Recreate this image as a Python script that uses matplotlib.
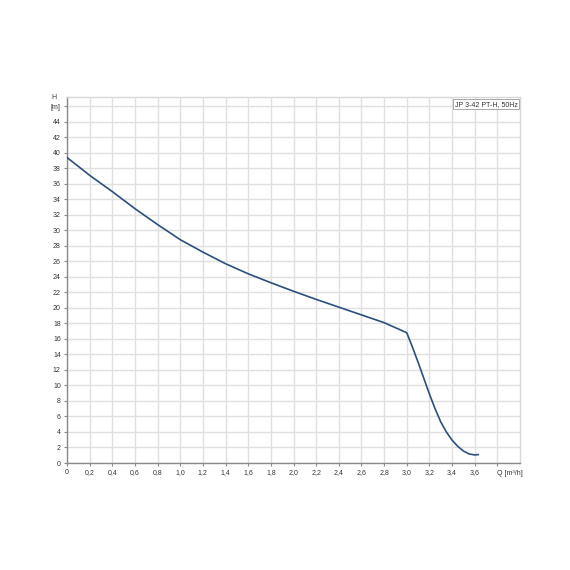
import matplotlib
matplotlib.use("Agg")
import matplotlib.pyplot as plt
import matplotlib.transforms as mtransforms

# Data
Q = [0, 0.2, 0.4, 0.6, 0.8, 1.0, 1.2, 1.4, 1.6, 1.8, 2.0, 2.2, 2.4, 2.6, 2.8,
     3.0, 3.05, 3.1, 3.15, 3.2, 3.25, 3.3, 3.35, 3.4, 3.45, 3.5, 3.55, 3.6, 3.63]
H = [39.4, 37.1, 35.0, 32.8, 30.75, 28.8, 27.2, 25.7, 24.4, 23.25, 22.15, 21.1,
     20.1, 19.1, 18.1, 16.8, 14.95, 13.0, 10.95, 8.9, 7.0, 5.3, 4.0, 2.95, 2.15,
     1.55, 1.17, 1.04, 1.08]

x_ticks = [0, 0.2, 0.4, 0.6, 0.8, 1.0, 1.2, 1.4, 1.6, 1.8, 2.0, 2.2, 2.4, 2.6,
           2.8, 3.0, 3.2, 3.4, 3.6, 3.8]
x_labels = ["0", "0,2", "0,4", "0,6", "0,8", "1,0", "1,2", "1,4", "1,6", "1,8",
            "2,0", "2,2", "2,4", "2,6", "2,8", "3,0", "3,2", "3,4", "3,6", ""]
y_ticks = list(range(0, 47, 2))
y_labels = [str(v) for v in range(0, 45, 2)] + ["[m]"]

title = "JP 3-42 PT-H, 50Hz"
x_name = "Q [m³/h]"
y_name = "H"

plt.rcParams['font.family'] = ['Liberation Sans', 'DejaVu Sans']

fig = plt.figure(figsize=(5.7, 5.7), dpi=100)
ax = fig.add_axes([67/570, 1 - 463/570, (520 - 67)/570, (463 - 97)/570])

ax.plot(Q, H, color="#2b4f7e", lw=1.2, solid_joinstyle='round', zorder=3)

ax.set_xlim(0, 4.0)
ax.set_ylim(0, 47.2)
ax.set_xticks(x_ticks)
ax.set_xticklabels(x_labels)
ax.set_yticks(y_ticks)
ax.set_yticklabels(y_labels)

ax.grid(True, color="#e0e0e0", lw=1.0, zorder=0)
ax.set_axisbelow(True)

for side in ["top", "right"]:
    ax.spines[side].set_color("#d8d8d8")
    ax.spines[side].set_linewidth(1.0)
for side in ["left", "bottom"]:
    ax.spines[side].set_color("#8a8a8a")
    ax.spines[side].set_linewidth(1.0)

ax.tick_params(axis="both", labelsize=5, colors="#8a8a8a", labelcolor="#333333",
               length=2.5, width=0.8, direction="out", pad=2)

# Axis name labels
trans_x = mtransforms.blended_transform_factory(ax.transData, ax.transAxes)
ax.text(3.8, -0.0195, x_name, transform=trans_x, fontsize=5, color="#333333",
        ha="left", va="top")
trans_y = mtransforms.blended_transform_factory(ax.transAxes, ax.transData)
ax.text(-0.028, 47.1, y_name, transform=trans_y, fontsize=5, color="#333333",
        ha="center", va="center")

# Title box
ax.text(0.995, 0.99, title, transform=ax.transAxes, fontsize=5, color="#333333",
        ha="right", va="top",
        bbox=dict(boxstyle="square,pad=0.25", fc="white", ec="#9a9a9a", lw=0.6))

fig.savefig("out.png", dpi=100)
